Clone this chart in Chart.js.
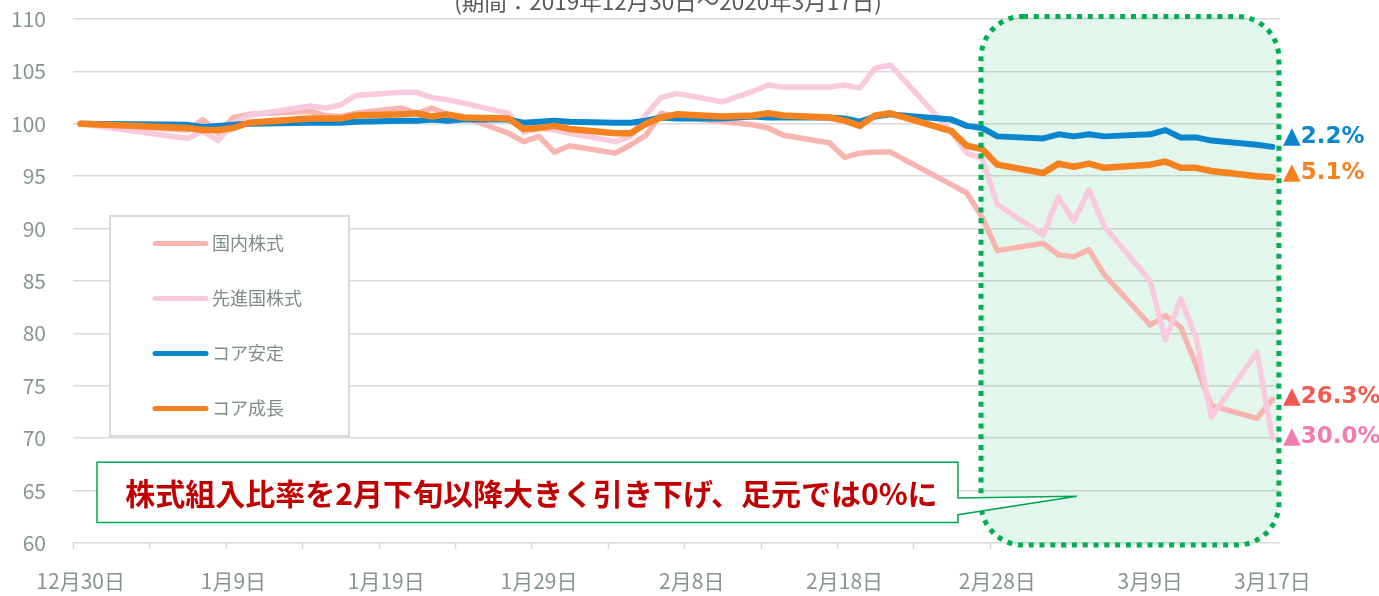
<!DOCTYPE html>
<html>
<head>
<meta charset="utf-8">
<script src="https://cdn.jsdelivr.net/npm/chart.js@4.4.1/dist/chart.umd.min.js"></script>
<style>
  html, body { margin: 0; padding: 0; background: #fff; }
  #wrap { width: 1379px; height: 596px; }
</style>
</head>
<body>
<div id="wrap"><canvas id="chart" width="1379" height="596"></canvas></div>
<script>
// 2019/12/30 = 100 とした推移
var dates = [
  '2019-12-30',
  '2020-01-06', '2020-01-07', '2020-01-08', '2020-01-09', '2020-01-10',
  '2020-01-14', '2020-01-15', '2020-01-16', '2020-01-17',
  '2020-01-20', '2020-01-21', '2020-01-22', '2020-01-23', '2020-01-24',
  '2020-01-27', '2020-01-28', '2020-01-29', '2020-01-30', '2020-01-31',
  '2020-02-03', '2020-02-04', '2020-02-05', '2020-02-06', '2020-02-07',
  '2020-02-10', '2020-02-12', '2020-02-13', '2020-02-14',
  '2020-02-17', '2020-02-18', '2020-02-19', '2020-02-20', '2020-02-21',
  '2020-02-25', '2020-02-26', '2020-02-27', '2020-02-28',
  '2020-03-02', '2020-03-03', '2020-03-04', '2020-03-05', '2020-03-06',
  '2020-03-09', '2020-03-10', '2020-03-11', '2020-03-12', '2020-03-13',
  '2020-03-16', '2020-03-17'
];
var domesticStock = [
  100,
  99.4, 100.4, 99.1, 100.6, 100.9,
  101.2, 100.8, 100.7, 101.0,
  101.5, 101.0, 101.5, 100.9, 100.7,
  99.1, 98.3, 98.8, 97.3, 97.9,
  97.2, 98.0, 98.9, 101.0, 100.7,
  100.2, 99.9, 99.6, 98.9,
  98.2, 96.8, 97.2, 97.3, 97.3,
  94.2, 93.4, 91.1, 87.9,
  88.6, 87.5, 87.3, 88.0, 85.6,
  80.8, 81.7, 80.6, 77.0, 73.1,
  71.9, 73.7
];
var foreignStock = [
  100,
  98.6, 99.3, 98.4, 100.1, 100.8,
  101.7, 101.5, 101.8, 102.7,
  103.0, 103.0, 102.5, 102.3, 102.0,
  101.0, 99.2, 99.6, 99.4, 99.1,
  98.3, 98.8, 100.9, 102.5, 102.9,
  102.1, 103.1, 103.7, 103.5,
  103.5, 103.7, 103.4, 105.3, 105.6,
  99.2, 97.2, 96.7, 92.3,
  89.4, 93.0, 90.7, 93.7, 90.2,
  85.0, 79.4, 83.3, 79.6, 72.0,
  78.2, 70.0
];
var coreStable = [
  100,
  99.9, 99.7, 99.8, 99.9, 100.0,
  100.1, 100.1, 100.1, 100.2,
  100.3, 100.3, 100.4, 100.3, 100.4,
  100.4, 100.1, 100.2, 100.3, 100.2,
  100.1, 100.1, 100.3, 100.6, 100.5,
  100.5, 100.7, 100.6, 100.6,
  100.6, 100.5, 100.2, 100.7, 100.9,
  100.4, 99.8, 99.6, 98.8,
  98.6, 99.0, 98.8, 99.0, 98.8,
  99.0, 99.4, 98.7, 98.7, 98.4,
  98.0, 97.8
];
var coreGrowth = [
  100,
  99.6, 99.4, 99.4, 99.6, 100.1,
  100.5, 100.5, 100.5, 100.8,
  100.9, 101.0, 100.7, 100.9, 100.6,
  100.5, 99.5, 99.6, 99.8, 99.5,
  99.1, 99.1, 100.0, 100.6, 100.9,
  100.7, 100.8, 101.0, 100.8,
  100.6, 100.3, 99.8, 100.8, 101.0,
  99.3, 97.9, 97.6, 96.1,
  95.3, 96.2, 95.9, 96.2, 95.8,
  96.1, 96.4, 95.8, 95.8, 95.5,
  95.0, 94.9
];
var seriesNames = ['国内株式', '先進国株式', 'コア安定', 'コア成長'];
var endLabels = ['▲26.3%', '▲30.0%', '▲2.2%', '▲5.1%'];
var tickDates = ['2019-12-30', '2020-01-09', '2020-01-19', '2020-01-29', '2020-02-08',
  '2020-02-18', '2020-02-28', '2020-03-09', '2020-03-17'];
var tickLabels = ['12月30日', '1月9日', '1月19日', '1月29日', '2月8日',
  '2月18日', '2月28日', '3月9日', '3月17日'];
var titleText = '(期間：2019年12月30日～2020年3月17日)';
var calloutText = '株式組入比率を2月下旬以降大きく引き下げ、足元では0%に';

// styles
var lineColors = ['#f8b5b0', '#f9c9dd', '#0a86cf', '#f5821f'];
var labelColors = ['#f25a50', '#f07daf', '#0a86cf', '#f5821f'];
var lineWidths = [5.5, 5.5, 6, 6.5];
var endLabelDy = [-2, -1, -10, -4];
var gridColor = '#d9d9d9';
var axisTextColor = '#86958f';
var jpFont = '"Noto Sans CJK JP", "Noto Sans", sans-serif';

var baseTime = Date.UTC(2019, 11, 30);
function dayOf(s) {
  var p = s.split('-');
  return Math.round((Date.UTC(+p[0], +p[1] - 1, +p[2]) - baseTime) / 86400000);
}
var lastDay = dayOf(dates[dates.length - 1]);
var tickDays = tickDates.map(dayOf);

var allSeries = [domesticStock, foreignStock, coreStable, coreGrowth];
var datasets = allSeries.map(function (vals, i) {
  return {
    label: seriesNames[i],
    data: vals.map(function (v, j) { return { x: dayOf(dates[j]), y: v }; }),
    borderColor: lineColors[i],
    backgroundColor: lineColors[i],
    borderWidth: lineWidths[i],
    pointRadius: 0,
    tension: 0,
    borderJoinStyle: 'round',
    borderCapStyle: 'round',
    order: 4 - i
  };
});

function roundRect(ctx, l, t, r, b, rad) {
  ctx.beginPath();
  ctx.moveTo(l + rad, t);
  ctx.lineTo(r - rad, t);
  ctx.arcTo(r, t, r, t + rad, rad);
  ctx.lineTo(r, b - rad);
  ctx.arcTo(r, b, r - rad, b, rad);
  ctx.lineTo(l + rad, b);
  ctx.arcTo(l, b, l, b - rad, rad);
  ctx.lineTo(l, t + rad);
  ctx.arcTo(l, t, l + rad, t, rad);
  ctx.closePath();
}

// highlight region (2月下旬以降), in axis units
var zone = { x0: 58.93, x1: 78.43, y0: 110.25, y1: 59.8, r: 42 };
function zoneRect(chart) {
  var xs = chart.scales.x, ys = chart.scales.y;
  return {
    l: xs.getPixelForValue(zone.x0), r: xs.getPixelForValue(zone.x1),
    t: ys.getPixelForValue(zone.y0), b: ys.getPixelForValue(zone.y1)
  };
}

var decorations = {
  id: 'decorations',
  beforeDatasetsDraw: function (chart) {
    var ctx = chart.ctx, z = zoneRect(chart);
    ctx.save();
    roundRect(ctx, z.l, z.t, z.r, z.b, zone.r);
    ctx.fillStyle = 'rgba(0,176,80,0.11)';
    ctx.fill();
    ctx.restore();
  },
  afterDatasetsDraw: function (chart) {
    var ctx = chart.ctx, xs = chart.scales.x, ys = chart.scales.y;
    var area = chart.chartArea;
    ctx.save();

    // x tick marks every 5 days
    ctx.strokeStyle = gridColor;
    ctx.lineWidth = 1.5;
    for (var v = -0.5; v < lastDay + 0.5; v += 5) {
      var px = Math.round(xs.getPixelForValue(v)) + 0.5;
      ctx.beginPath();
      ctx.moveTo(px, area.bottom);
      ctx.lineTo(px, area.bottom + 6);
      ctx.stroke();
    }

    // dotted border of highlight
    var z = zoneRect(chart);
    roundRect(ctx, z.l, z.t, z.r, z.b, zone.r);
    ctx.setLineDash([5, 5.8]);
    ctx.lineWidth = 5;
    ctx.strokeStyle = '#00b050';
    ctx.stroke();
    ctx.setLineDash([]);

    // callout
    var bl = xs.getPixelForValue(1.07), br = xs.getPixelForValue(57.42);
    var bt = ys.getPixelForValue(67.7), bb = ys.getPixelForValue(61.95);
    var tipX = xs.getPixelForValue(65.2), tipY = ys.getPixelForValue(64.45);
    var p1 = ys.getPixelForValue(64.3), p2 = ys.getPixelForValue(62.7);
    ctx.beginPath();
    ctx.moveTo(bl, bt);
    ctx.lineTo(br, bt);
    ctx.lineTo(br, p1);
    ctx.lineTo(tipX, tipY);
    ctx.lineTo(br, p2);
    ctx.lineTo(br, bb);
    ctx.lineTo(bl, bb);
    ctx.closePath();
    ctx.fillStyle = '#fff';
    ctx.fill();
    ctx.strokeStyle = '#00a650';
    ctx.lineWidth = 1.5;
    ctx.stroke();
    ctx.fillStyle = '#c00000';
    ctx.font = 'bold 30px ' + jpFont;
    ctx.textAlign = 'center';
    ctx.textBaseline = 'middle';
    ctx.fillText(calloutText, (bl + br) / 2 + 4, (bt + bb) / 2 + 1);

    // legend
    var lg = { l: 110, t: 216, w: 239, h: 220 };
    ctx.fillStyle = '#fff';
    ctx.fillRect(lg.l, lg.t, lg.w, lg.h);
    ctx.strokeStyle = gridColor;
    ctx.lineWidth = 2;
    ctx.strokeRect(lg.l, lg.t, lg.w, lg.h);
    ctx.font = '18px ' + jpFont;
    ctx.textAlign = 'left';
    ctx.textBaseline = 'middle';
    chart.data.datasets.forEach(function (ds, i) {
      var y = lg.t + 27.5 + i * 55;
      ctx.beginPath();
      ctx.moveTo(155, y);
      ctx.lineTo(206, y);
      ctx.strokeStyle = ds.borderColor;
      ctx.lineWidth = 5;
      ctx.lineCap = 'round';
      ctx.stroke();
      ctx.fillStyle = '#7f8c86';
      ctx.fillText(ds.label, 212, y);
    });

    // end labels
    ctx.font = 'bold 23px "DejaVu Sans", sans-serif';
    chart.data.datasets.forEach(function (ds, i) {
      var last = ds.data[ds.data.length - 1];
      ctx.fillStyle = labelColors[i];
      ctx.fillText(endLabels[i], area.right + 3, ys.getPixelForValue(last.y) + endLabelDy[i]);
    });

    // title (cut off at the top)
    ctx.font = '22.5px ' + jpFont;
    ctx.fillStyle = '#595959';
    ctx.textAlign = 'center';
    ctx.textBaseline = 'alphabetic';
    ctx.fillText(titleText, 668, 10);
    ctx.restore();
  }
};

new Chart(document.getElementById('chart').getContext('2d'), {
  type: 'line',
  data: { datasets: datasets },
  options: {
    responsive: false,
    animation: false,
    devicePixelRatio: 1,
    layout: { padding: { top: 19, right: 99, left: 0, bottom: 0 } },
    plugins: { legend: { display: false }, tooltip: { enabled: false } },
    scales: {
      x: {
        type: 'linear',
        min: -0.5,
        max: lastDay + 0.5,
        grid: { display: false, drawTicks: false, tickLength: 0 },
        border: { display: false },
        afterBuildTicks: function (scale) {
          scale.ticks = tickDays.map(function (d) { return { value: d }; });
        },
        afterFit: function (scale) {
          scale.height = 53;
          scale.paddingLeft = 0;
          scale.paddingRight = 0;
        },
        ticks: {
          autoSkip: false,
          maxRotation: 0,
          padding: 25,
          color: axisTextColor,
          font: { family: jpFont, size: 21 },
          callback: function (value) {
            var i = tickDays.indexOf(value);
            return i >= 0 ? tickLabels[i] : '';
          }
        }
      },
      y: {
        min: 60,
        max: 110,
        grid: { color: gridColor, lineWidth: 1.5, drawTicks: false },
        border: { display: false },
        afterFit: function (scale) {
          scale.width = 73;
          scale.paddingTop = 0;
          scale.paddingBottom = 0;
        },
        ticks: {
          stepSize: 5,
          padding: 27,
          color: axisTextColor,
          font: { family: jpFont, size: 21 }
        }
      }
    }
  },
  plugins: [decorations]
});
</script>
</body>
</html>
